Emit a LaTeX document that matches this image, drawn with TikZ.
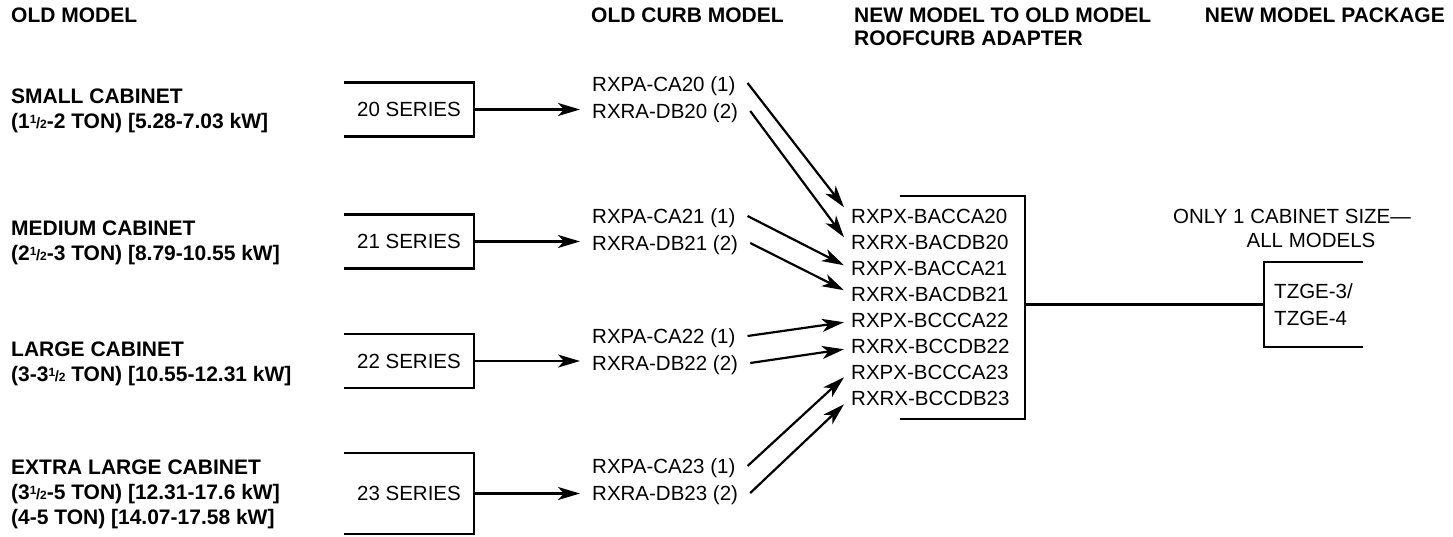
\documentclass[tikz,border=0pt]{standalone}
\usepackage{fontspec}
\setmainfont{Liberation Sans}
\usetikzlibrary{arrows.meta}
\newcommand\myfrac[2]{\raisebox{5.5pt}{\fontsize{12}{12}\selectfont #1}\kern-0.3pt{\fontsize{15}{15}\selectfont/}\kern-0.3pt{\fontsize{12}{12}\selectfont #2}}
\begin{document}
\begin{tikzpicture}[x=1pt,y=-1pt,
  bt/.style={font=\bfseries\fontsize{21}{25}\selectfont, inner sep=0pt, anchor=base west},
  rt/.style={font=\fontsize{20.5}{25}\selectfont, inner sep=0pt, anchor=base west},
  arr/.style={line width=2.2pt, -{Stealth[length=22pt,width=13pt,inset=6pt]}},
  brk/.style={line width=2.3pt, line join=miter},
  sbox/.style={inner sep=0pt, minimum width=130pt, minimum height=53.5pt, font=\fontsize{20.5}{25}\selectfont}
]
\useasboundingbox (0,0) rectangle (1453,536);

% headers
\node[bt] (h1) at (11,22.5) {OLD MODEL};
\node[bt] (h2) at (591,22.5) {OLD CURB MODEL};
\node[bt] (h3) at (854,22.5) {NEW MODEL TO OLD MODEL};
\node[bt] (h3b) at (854,45.5) {ROOFCURB ADAPTER};
\node[bt,anchor=base east] (h4) at (1445,22.5) {NEW MODEL PACKAGE};

% left labels
\node[bt] (l20a) at (11,103.5) {SMALL CABINET};
\node[bt] (l20b) at (11,128.5) {(1\myfrac12-2 TON) [5.28-7.03 kW]};
\node[bt] (l21a) at (11,235.5) {MEDIUM CABINET};
\node[bt] (l21b) at (11,260.5) {(2\myfrac12-3 TON) [8.79-10.55 kW]};
\node[bt] (l22a) at (11,356.5) {LARGE CABINET};
\node[bt] (l22b) at (11,381.5) {(3-3\myfrac12 TON) [10.55-12.31 kW]};
\node[bt] (l23a) at (11,474.5) {EXTRA LARGE CABINET};
\node[bt] (l23b) at (11,499.5) {(3\myfrac12-5 TON) [12.31-17.6 kW]};
\node[bt] (l23c) at (11,524.5) {(4-5 TON) [14.07-17.58 kW]};

% series boxes
\node[sbox] (s20) at (409,109.5) {20 SERIES};
\node[sbox] (s21) at (409,241.5) {21 SERIES};
\node[sbox] (s22) at (409,361) {22 SERIES};
\node[sbox, minimum height=81pt] (s23) at (409,493.5) {23 SERIES};
\foreach \s in {s20,s21,s22,s23}
  \draw[brk] (\s.north west) -- (\s.north east) -- (\s.south east) -- (\s.south west);

% curb models
\node[rt] (c20a) at (592,91.3) {RXPA-CA20 (1)};
\node[rt] (c20b) at (592,118.3) {RXRA-DB20 (2)};
\node[rt] (c21a) at (592,223.3) {RXPA-CA21 (1)};
\node[rt] (c21b) at (592,250.3) {RXRA-DB21 (2)};
\node[rt] (c22a) at (592,343.3) {RXPA-CA22 (1)};
\node[rt] (c22b) at (592,370.3) {RXRA-DB22 (2)};
\node[rt] (c23a) at (592,473.3) {RXPA-CA23 (1)};
\node[rt] (c23b) at (592,500.3) {RXRA-DB23 (2)};

% horizontal arrows
\draw[arr] (s20.east) -- ([xshift=-12pt]c20b.west |- s20.east);
\draw[arr] (s21.east) -- ([xshift=-12pt]c21b.west |- s21.east);
\draw[arr] (s22.east) -- ([xshift=-12pt]c22b.west |- s22.east);
\draw[arr] (s23.east) -- ([xshift=-12pt]c23b.west |- s23.east);

% adapter box
\node[inner sep=0pt, minimum width=125pt, minimum height=223pt] (ad) at (962.5,307.5) {};
\draw[brk] (ad.north west) -- (ad.north east) -- (ad.south east) -- (ad.south west);
\foreach \t [count=\i from 0] in {RXPX-BACCA20,RXRX-BACDB20,RXPX-BACCA21,RXRX-BACDB21,RXPX-BCCCA22,RXRX-BCCDB22,RXPX-BCCCA23,RXRX-BCCDB23}
  \node[rt] (a\i) at (851,{223.3+26*\i}) {\t};

% diagonal arrows
\draw[arr] ([xshift=12pt,yshift=3pt]c20a.east) -- ([xshift=-7pt,yshift=9pt]a0.west);
\draw[arr] ([xshift=12pt,yshift=2pt]c20b.east) -- ([xshift=-7pt,yshift=5pt]a1.west);
\draw[arr] ([xshift=12pt,yshift=2pt]c21a.east) -- ([xshift=-7pt,yshift=3pt]a2.west);
\draw[arr] ([xshift=12pt,yshift=2pt]c21b.east) -- ([xshift=-7pt,yshift=4pt]a3.west);
\draw[arr] ([xshift=12pt,yshift=2pt]c22a.east) -- ([xshift=-7pt,yshift=-2pt]a4.west);
\draw[arr] ([xshift=12pt,yshift=2pt]c22b.east) -- ([xshift=-7pt,yshift=-3pt]a5.west);
\draw[arr] ([xshift=12pt,yshift=2pt]c23a.east) -- ([xshift=-7pt,yshift=-5pt]a6.west);
\draw[arr] ([xshift=12pt,yshift=2pt]c23b.east) -- ([xshift=-7pt,yshift=-6pt]a7.west);

% new model package
\node[rt] (only) at (1173,223.3) {ONLY 1 CABINET SIZE—};
\node[rt,anchor=base] (all) at (1311,247.3) {ALL MODELS};
\node[inner sep=0pt, minimum width=99pt, minimum height=85pt, align=left, font=\fontsize{20.5}{27}\selectfont] (tz) at (1313.5,304.5) {TZGE-3/\\TZGE-4};
\draw[brk] (tz.north east) -- (tz.north west) -- (tz.south west) -- (tz.south east);
\draw[brk] (ad.east |- tz.west) -- (tz.west);
\end{tikzpicture}
\end{document}
